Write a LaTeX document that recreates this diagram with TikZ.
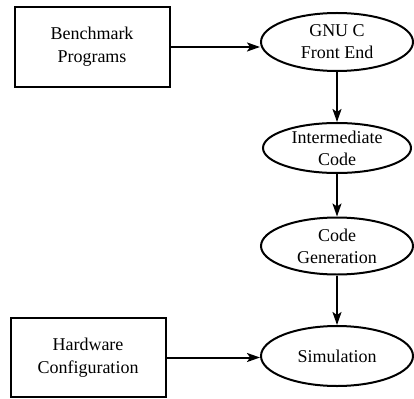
\documentclass[tikz,border=0pt]{standalone}
\usepackage{fontspec}
\setmainfont{Liberation Serif}
\usetikzlibrary{shapes.geometric,arrows.meta}
\begin{document}
\begin{tikzpicture}[x=1pt,y=-1pt,
  box/.style={draw,line width=2pt,rectangle,inner sep=0pt,align=center,font=\fontsize{18}{23}\selectfont},
  oval/.style={draw,line width=2pt,ellipse,inner sep=0pt,align=center,font=\fontsize{18}{22}\selectfont},
  conn/.style={line width=2pt,-{Stealth[length=13pt,width=9pt,inset=3pt]}}]
\useasboundingbox (0,0) rectangle (414,398);
\node[box,minimum width=155pt,minimum height=80pt] (bench) at (92,47) {Benchmark\\Programs};
\node[box,minimum width=155pt,minimum height=79pt] (hw) at (88,357.5) {Hardware\\Configuration};
\node[oval,minimum width=152pt,minimum height=58pt] (gnu) at (337,42) {GNU C\\Front End};
\node[oval,minimum width=148pt,minimum height=50pt] (inter) at (337,148) {Intermediate\\Code};
\node[oval,minimum width=152pt,minimum height=57pt] (gen) at (337,246) {Code\\Generation};
\node[oval,minimum width=152pt,minimum height=60pt] (sim) at (337,356) {Simulation};
\draw[conn] (bench.east) -- (gnu.west |- bench.east);
\draw[conn] (gnu.south) -- (inter.north);
\draw[conn] (inter.south) -- (gen.north);
\draw[conn] (gen.south) -- (sim.north);
\draw[conn] (hw.east) -- (sim.west |- hw.east);
\end{tikzpicture}
\end{document}
